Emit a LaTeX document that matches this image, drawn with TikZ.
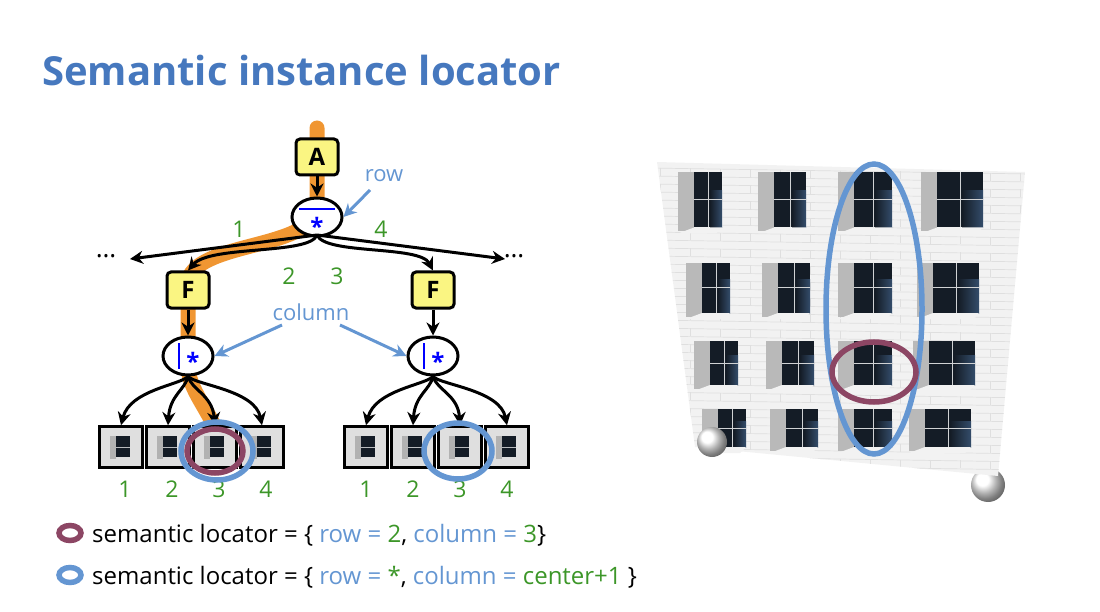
\documentclass[tikz,border=0pt]{standalone}
\usepackage{fontspec}
\setmainfont{Open Sans}
\usetikzlibrary{arrows.meta,shapes.geometric,calc}
\definecolor{org}{RGB}{240,150,50}
\definecolor{lb}{RGB}{100,150,210}
\definecolor{pur}{RGB}{140,70,100}
\definecolor{grn}{RGB}{60,150,40}
\definecolor{yel}{RGB}{250,245,130}
\definecolor{tb}{RGB}{70,120,190}
\definecolor{win}{RGB}{20,28,38}
\tikzset{
 op/.style={draw,line width=3pt,rounded corners=4pt,fill=yel,minimum width=42pt,minimum height=36pt,font=\fontsize{24}{24}\selectfont\bfseries},
 sel/.style={draw,line width=3pt,ellipse,fill=white,minimum width=50pt,minimum height=38pt,inner sep=0pt},
 tile/.style={draw,line width=2.5pt,fill=gray!25,minimum width=43pt,minimum height=41pt,inner sep=0pt},
 arr/.style={line width=3pt,-{Stealth[length=13pt,width=13pt]}},
 larr/.style={lb,line width=3pt,-{Stealth[length=13pt,width=13pt]}},
 num/.style={grn,font=\fontsize{23}{23}\selectfont},
 lbl/.style={lb,font=\fontsize{22}{22}\selectfont},
 hl/.style={line width=5.5pt}
}
\newcommand{\tilewin}[1]{\fill[gray!60] ($(#1)+(-11,-11)$) rectangle ($(#1)+(-5,12)$);
 \fill[win] ($(#1)+(-5,-11)$) rectangle ($(#1)+(9,10)$);
 \draw[white!70!win,line width=0.8pt] ($(#1)+(-5,0)$) -- ($(#1)+(9,0)$);}
\begin{document}
\begin{tikzpicture}[x=1pt,y=-1pt]
\useasboundingbox (0,0) rectangle (1100,612);
\node[anchor=base west,tb,font=\fontsize{40}{40}\selectfont\bfseries,inner sep=0pt] (title) at (42,86) {Semantic instance locator};
% orange path
\draw[org,line width=15pt,line cap=round] (317,128) -- (317,205) .. controls (317,250) and (200,240) .. (188,280) -- (188,365) .. controls (188,390) and (210,410) .. (220,440);
\node[op] (A) at (317,157) {A};
\node[sel] (r) at (317,217) {};
\draw[blue,line width=2.5pt] (299,209) -- (335,209);
\node[blue,font=\fontsize{24}{24}\selectfont\bfseries] (rs) at (317,226) {*};
\node[op] (F1) at (188,290) {F};
\node[op] (F2) at (433,290) {F};
\node[sel] (c1) at (188,356) {};
\node[sel] (c2) at (433,356) {};
\foreach \c in {c1,c2}{
 \draw[blue,line width=2.5pt] ($(\c)+(-9,-13)$) -- ($(\c)+(-9,13)$);
 \node[blue,font=\fontsize{24}{24}\selectfont\bfseries] (\c s) at ($(\c)+(5,5)$) {*};}
\draw[arr] (A) -- (r);
\draw[arr] (F1) -- (c1);
\draw[arr] (F2) -- (c2);
\coordinate (rb) at (317,235);
\coordinate (eL) at (130,259);
\coordinate (eR) at (505,259);
\draw[arr] (rb) -- (eL);
\draw[arr] (rb) -- (eR);
\draw[arr] (rb) .. controls (310,255) and (210,245) .. (F1.north);
\draw[arr] (rb) .. controls (325,255) and (420,245) .. (F2.north);
\node[font=\fontsize{26}{26}\selectfont] (d1) at (106,256) {\dots};
\node[font=\fontsize{26}{26}\selectfont] (d2) at (514,256) {\dots};
\node[num] (n1) at (239,229) {1};
\node[num] (n4) at (381,229) {4};
\node[num] (n2) at (289,276) {2};
\node[num] (n3) at (337,276) {3};
\node[lbl] (row) at (384,176) {row};
\draw[larr] (370,190) -- (r.east);
\node[lbl] (col) at (311,312) {column};
\draw[larr] (282,325) -- (c1.east);
\draw[larr] (340,325) -- (c2.west);
% tiles
\foreach \g/\x in {a1/121,a2/168,a3/215,a4/262,b1/366,b2/413,b3/460,b4/507}{
 \node[tile] (\g) at (\x,447) {};
 \tilewin{\g}
}
\foreach \k/\t in {1/a1,2/a2,3/a3,4/a4}{
 \node[num] (la\k) at ($(\t)+(4,42)$) {\k};}
\foreach \k/\t in {1/b1,2/b2,3/b3,4/b4}{
 \node[num] (lb\k) at ($(\t)+(0,42)$) {\k};}
\draw[arr] (c1.south) .. controls (180,385) and (130,390) .. (a1.north);
\draw[arr] (c1.south) .. controls (185,390) and (170,395) .. (a2.north);
\draw[arr] (c1.south) .. controls (192,390) and (212,395) .. (a3.north);
\draw[arr] (c1.south) .. controls (196,385) and (255,390) .. (a4.north);
\draw[arr] (c2.south) .. controls (425,385) and (375,390) .. (b1.north);
\draw[arr] (c2.south) .. controls (430,390) and (415,395) .. (b2.north);
\draw[arr] (c2.south) .. controls (437,390) and (458,395) .. (b3.north);
\draw[arr] (c2.south) .. controls (441,385) and (500,390) .. (b4.north);
\draw[lb,hl] (217,451) ellipse (36 and 29);
\draw[pur,hl] (215,451) ellipse (28 and 22);
\draw[lb,hl] (458,451) ellipse (34 and 28);
% legend
\draw[pur,hl] (70,533) ellipse (11 and 7.5);
\draw[lb,hl] (70,575) ellipse (11 and 7.5);
\node[anchor=base west,font=\fontsize{24}{24}\selectfont,inner sep=0pt] (t1) at (92,542) {semantic locator = \{ \textcolor{lb}{row} \textcolor{lb}{=} \textcolor{grn}{2}, \textcolor{lb}{column} \textcolor{lb}{=} \textcolor{grn}{3}\}};
\node[anchor=base west,font=\fontsize{24}{24}\selectfont,inner sep=0pt] (t2) at (92,584) {semantic locator = \{ \textcolor{lb}{row} \textcolor{lb}{=} \textcolor{grn}{*}, \textcolor{lb}{column} \textcolor{lb}{=} \textcolor{grn}{center+1} \}};
% building
\shade[ball color=white] (988,485) circle (17);
\fill[gray!10] (657,162) -- (1025,172) -- (998,476) -- (695,447) -- cycle;
\begin{scope}
\clip (657,162) -- (1025,172) -- (998,476) -- (695,447) -- cycle;
\foreach \y in {168,176,...,480}{\draw[gray!25,line width=0.7pt] (650,\y) -- (1030,\y+6);}
\foreach \y in {168,184,...,480}{\foreach \x in {660,690,...,1030}{\draw[gray!25,line width=0.6pt] (\x,\y+0.015*\x-10) -- (\x,\y+0.015*\x-2);}}
\end{scope}
\foreach \y/\h [count=\r] in {200/55,288/50,363/44,428/38}{
 \foreach \x/\w [count=\c] in {708/28,790/32,873/38,960/46}{
  \pgfmathsetmacro{\xx}{\x+(\r-1)*(3-\c)*4}
  \fill[gray!55] (\xx-\w/2-16,\y-\h/2) rectangle (\xx-\w/2,\y+\h/2+4);
  \fill[win] (\xx-\w/2,\y-\h/2) rectangle (\xx+\w/2,\y+\h/2);
  \fill[right color=win!60!lb, left color=win] (\xx+2,\y-\h/2+\h/3) rectangle (\xx+\w/2,\y+\h/2);
  \fill[white!90!gray] (\xx-\w/2,\y+\h/2) -- (\xx+\w/2,\y+\h/2) -- (\xx+\w/2-6,\y+\h/2+6) -- (\xx-\w/2-16,\y+\h/2+6) -- cycle;
  \draw[white!80!win,line width=1pt] (\xx-\w/2,\y) -- (\xx+\w/2,\y) (\xx,\y-\h/2) -- (\xx,\y+\h/2);
 }}
\shade[ball color=white] (712,442) circle (15);
\draw[lb,hl] (874,309) ellipse (48 and 145);
\draw[pur,hl] (874,372) ellipse (42 and 30);
\end{tikzpicture}
\end{document}
